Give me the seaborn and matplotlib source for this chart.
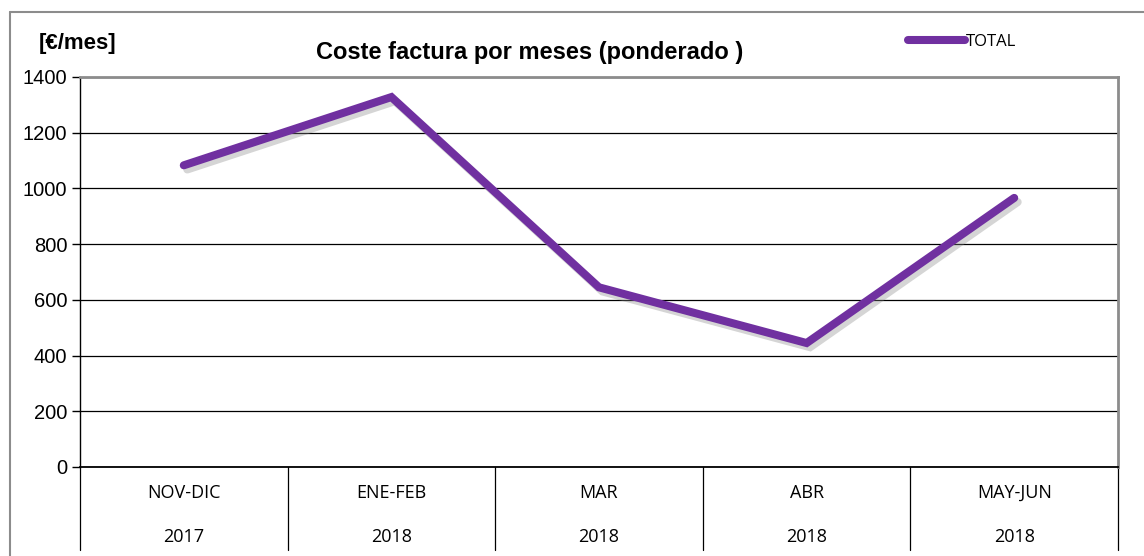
import matplotlib
matplotlib.use("Agg")
import matplotlib.pyplot as plt
import matplotlib.patheffects as pe
from matplotlib.lines import Line2D
import seaborn as sns
import pandas as pd

periods = ["NOV-DIC", "ENE-FEB", "MAR", "ABR", "MAY-JUN"]
years = ["2017", "2018", "2018", "2018", "2018"]
total = [1083, 1328, 645, 445, 966]
yticks = [0, 200, 400, 600, 800, 1000, 1200, 1400]

sns.set_theme(style="white")
plt.rcParams["font.family"] = ["Liberation Sans", "DejaVu Sans"]

df = pd.DataFrame({"pos": range(len(periods)), "TOTAL": total})

fig = plt.figure(figsize=(11.44, 5.56), dpi=100)
ax = fig.add_axes([80/1144, 89/556, 1038/1144, 390/556])

sns.lineplot(data=df, x="pos", y="TOTAL", ax=ax, color="#7030A0", linewidth=5.8,
             label="TOTAL", legend=False)
line = ax.lines[0]
line.set_solid_capstyle("round")
line.set_solid_joinstyle("miter")
line.set_path_effects([pe.SimpleLineShadow(offset=(2.5, -3), shadow_color="#888888", alpha=0.35),
                       pe.Normal()])

ax.set_xlim(-0.5, len(periods) - 0.5)
ax.set_ylim(0, 1400)
ax.set_yticks(yticks)
ax.set_yticklabels([str(v) for v in yticks], fontsize=14.5, color="black")
ax.yaxis.grid(True, color="black", linewidth=0.9)
ax.set_axisbelow(True)
ax.tick_params(axis="y", left=True, length=6, width=1, color="black", pad=3)
ax.set_xticks([])
ax.set_xlabel("")
ax.set_ylabel("")

for s in ["top", "right"]:
    ax.spines[s].set_color("#8c8c8c")
    ax.spines[s].set_linewidth(2)
ax.spines["left"].set_color("black")
ax.spines["left"].set_linewidth(1)
ax.spines["bottom"].set_color("black")
ax.spines["bottom"].set_linewidth(1.3)

# category table under the axis
trans = ax.get_xaxis_transform()
for b in [i - 0.5 for i in range(len(periods) + 1)]:
    ax.plot([b, b], [0, -0.213], transform=trans, color="black", linewidth=0.9, clip_on=False)
for i, (p, y) in enumerate(zip(periods, years)):
    ax.text(i, -0.067, p, transform=trans, ha="center", va="center", fontsize=13,
            family=["Open Sans", "DejaVu Sans"], color="black")
    ax.text(i, -0.179, y, transform=trans, ha="center", va="center", fontsize=13,
            family=["Open Sans", "DejaVu Sans"], color="black")

# titles
fig.text(530/1144, 1 - 52/556, "Coste factura por meses (ponderado )", ha="center", va="center",
         fontsize=17, fontweight="bold", color="black")
fig.text(78/1144, 1 - 44/556, "[€/mes]", ha="center", va="center", fontsize=16,
         fontweight="bold", color="black")

# legend
leg = fig.legend(handles=[Line2D([0], [0], color="#7030A0", linewidth=5.8, solid_capstyle="round")],
                 labels=["TOTAL"], loc="center left", bbox_to_anchor=(908/1144, 1 - 42/556),
                 frameon=False, handlelength=3.4, handletextpad=0.1, borderpad=0, borderaxespad=0,
                 prop={"family": "Open Sans", "size": 12})
for t in leg.get_texts():
    t.set_color("black")

# outer chart border
fig.add_artist(Line2D([10/1144, 10/1144], [0, 1 - 12/556], transform=fig.transFigure,
                      color="#8c8c8c", linewidth=1.5))
fig.add_artist(Line2D([10/1144, 1], [1 - 12/556, 1 - 12/556], transform=fig.transFigure,
                      color="#8c8c8c", linewidth=1.5))

fig.savefig("out.png", dpi=100)
